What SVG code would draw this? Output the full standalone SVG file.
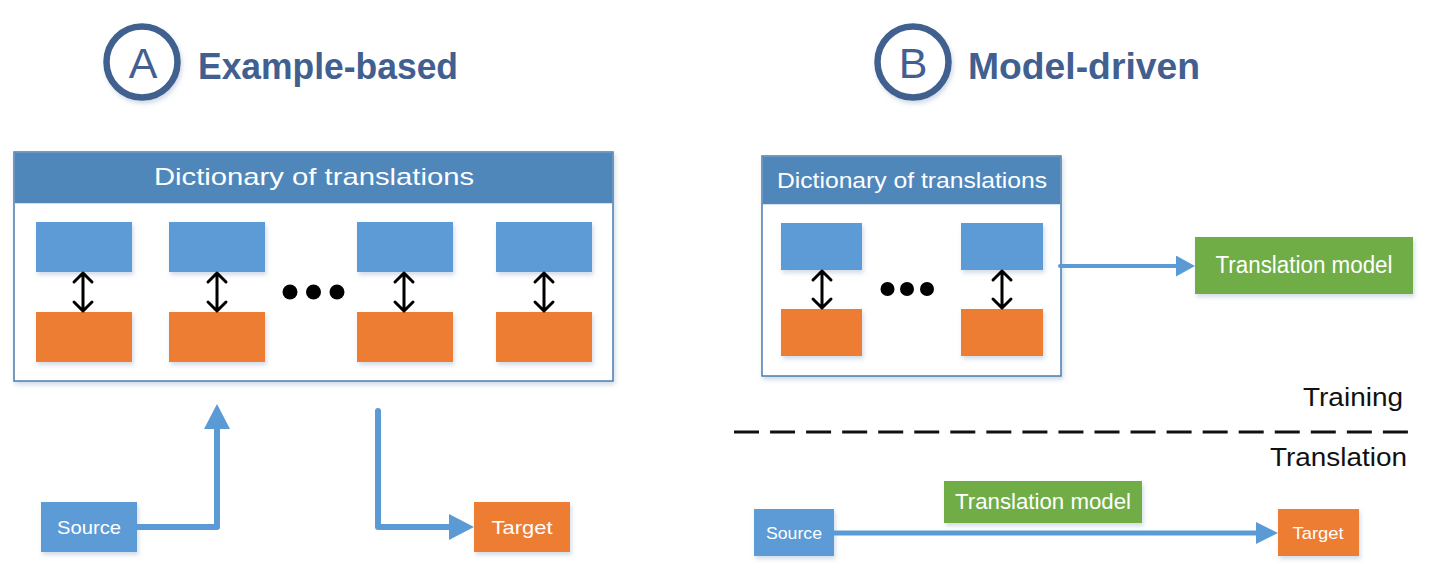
<svg xmlns="http://www.w3.org/2000/svg" width="1440" height="584" viewBox="0 0 1440 584">
<defs>
<filter id="sh" x="-10%" y="-10%" width="130%" height="140%">
<feDropShadow dx="1.5" dy="3" stdDeviation="2" flood-color="#6a88b0" flood-opacity="0.3"/>
</filter>
<marker id="hBig" viewBox="0 0 25 26" markerWidth="25" markerHeight="26" refX="1" refY="13" orient="auto" markerUnits="userSpaceOnUse">
<path d="M0,0 L25,13 L0,26 Z" fill="#5b9bd5"/>
</marker>
<marker id="hMid" viewBox="0 0 22 22" markerWidth="22" markerHeight="22" refX="1" refY="11" orient="auto" markerUnits="userSpaceOnUse">
<path d="M0,0 L22,11 L0,22 Z" fill="#5b9bd5"/>
</marker>
<marker id="hSm" viewBox="0 0 19 21" markerWidth="19" markerHeight="21" refX="1" refY="10.5" orient="auto" markerUnits="userSpaceOnUse">
<path d="M0,0 L19,10.5 L0,21 Z" fill="#5b9bd5"/>
</marker>
</defs>
<style>
.title{font-family:"Liberation Sans",Arial,sans-serif;font-weight:bold;fill:#41608f;font-size:37px}
.letter{font-family:"Liberation Sans",Arial,sans-serif;fill:#41608f;font-size:43px;text-anchor:middle}
.ring{fill:#ffffff;stroke:#41608f;stroke-width:6.5}
.frame{fill:#ffffff;stroke:#4a7cb0;stroke-width:1.5}
.head{fill:#4f87bb}
.blue{fill:#5b9bd5}
.orange{fill:#ed7d31}
.green{fill:#70ad47}
.wt{font-family:"Liberation Sans",Arial,sans-serif;fill:#ffffff;text-anchor:middle}
.dk{font-family:"Liberation Sans",Arial,sans-serif;fill:#111111;font-size:26px;text-anchor:end}
.flow{fill:none;stroke:#5b9bd5;stroke-linejoin:round;stroke-linecap:round}
.dbl{fill:none;stroke:#000000;stroke-width:3;stroke-linecap:round;stroke-linejoin:round}
.dot{fill:#000000}
</style>

<!-- Titles -->
<g id="titleA">
<circle class="ring" cx="142" cy="62" r="35.5" filter="url(#sh)"/>
<text class="letter" x="143" y="78">A</text>
<text class="title" x="198" y="79" textLength="260" lengthAdjust="spacingAndGlyphs">Example-based</text>
</g>
<g id="titleB">
<circle class="ring" cx="913" cy="62" r="35.5" filter="url(#sh)"/>
<text class="letter" x="913" y="78">B</text>
<text class="title" x="968" y="79" textLength="232" lengthAdjust="spacingAndGlyphs">Model-driven</text>
</g>

<!-- Part A dictionary -->
<g id="dictA">
<rect class="frame" x="14" y="152" width="599" height="229" filter="url(#sh)"/>
<rect class="head" x="14.75" y="152.75" width="597.5" height="50.5"/>
<text class="wt" x="314" y="185" font-size="24" textLength="320" lengthAdjust="spacingAndGlyphs">Dictionary of translations</text>
<g filter="url(#sh)">
<rect class="blue" x="36" y="222" width="96" height="50"/>
<rect class="blue" x="169" y="222" width="96" height="50"/>
<rect class="blue" x="357" y="222" width="96" height="50"/>
<rect class="blue" x="496" y="222" width="96" height="50"/>
<rect class="orange" x="36" y="312" width="96" height="50"/>
<rect class="orange" x="169" y="312" width="96" height="50"/>
<rect class="orange" x="357" y="312" width="96" height="50"/>
<rect class="orange" x="496" y="312" width="96" height="50"/>
</g>
<g>
<path class="dbl" d="M83,273 V311 M74,282 L83,273 L92,282 M74,302 L83,311 L92,302"/>
<path class="dbl" d="M217,273 V311 M208,282 L217,273 L226,282 M208,302 L217,311 L226,302"/>
<path class="dbl" d="M404,273 V311 M395,282 L404,273 L413,282 M395,302 L404,311 L413,302"/>
<path class="dbl" d="M544,273 V311 M535,282 L544,273 L553,282 M535,302 L544,311 L553,302"/>
</g>
<circle class="dot" cx="290" cy="292" r="7.5"/>
<circle class="dot" cx="313.5" cy="292" r="7.5"/>
<circle class="dot" cx="337" cy="292" r="7.5"/>
</g>

<g id="sourceA">
<rect class="blue" x="41" y="502" width="96" height="50" filter="url(#sh)"/>
<text class="wt" x="89" y="534" font-size="19" textLength="64" lengthAdjust="spacingAndGlyphs">Source</text>
</g>
<g id="targetA">
<rect class="orange" x="474" y="502" width="96" height="50" filter="url(#sh)"/>
<text class="wt" x="522" y="534" font-size="19" textLength="61" lengthAdjust="spacingAndGlyphs">Target</text>
</g>

<!-- Part B dictionary -->
<g id="dictB">
<rect class="frame" x="762" y="156" width="299" height="220" filter="url(#sh)"/>
<rect class="head" x="762.75" y="156.75" width="297.5" height="47.5"/>
<text class="wt" x="912" y="188" font-size="22" textLength="270" lengthAdjust="spacingAndGlyphs">Dictionary of translations</text>
<g filter="url(#sh)">
<rect class="blue" x="781" y="223" width="81" height="47"/>
<rect class="blue" x="961" y="223" width="82" height="47"/>
<rect class="orange" x="781" y="309" width="81" height="47"/>
<rect class="orange" x="961" y="309" width="82" height="47"/>
</g>
<path class="dbl" d="M822,271 V308 M813,280 L822,271 L831,280 M813,299 L822,308 L831,299"/>
<path class="dbl" d="M1002,271 V308 M993,280 L1002,271 L1011,280 M993,299 L1002,308 L1011,299"/>
<circle class="dot" cx="887.5" cy="289" r="7"/>
<circle class="dot" cx="907" cy="289" r="7"/>
<circle class="dot" cx="927" cy="289" r="7"/>
</g>

<g id="modelTrain">
<rect class="green" x="1195" y="237" width="218" height="57" filter="url(#sh)"/>
<text class="wt" x="1304" y="273" font-size="23" textLength="177" lengthAdjust="spacingAndGlyphs">Translation model</text>
</g>

<g id="phaseLabels">
<text class="dk" x="1403" y="406" textLength="100" lengthAdjust="spacingAndGlyphs">Training</text>
<line x1="734" y1="432" x2="1408" y2="432" stroke="#111111" stroke-width="3" stroke-dasharray="25 11.05"/>
<text class="dk" x="1407" y="466" textLength="137" lengthAdjust="spacingAndGlyphs">Translation</text>
</g>

<g id="modelUse">
<rect class="green" x="944" y="481" width="198" height="42" filter="url(#sh)"/>
<text class="wt" x="1043" y="509" font-size="22" textLength="176" lengthAdjust="spacingAndGlyphs">Translation model</text>
</g>
<g id="sourceB">
<rect class="blue" x="754" y="509" width="80" height="47" filter="url(#sh)"/>
<text class="wt" x="794" y="539" font-size="17" textLength="56" lengthAdjust="spacingAndGlyphs">Source</text>
</g>
<g id="targetB">
<rect class="orange" x="1278" y="509" width="81" height="47" filter="url(#sh)"/>
<text class="wt" x="1318" y="539" font-size="17" textLength="51" lengthAdjust="spacingAndGlyphs">Target</text>
</g>

<!-- Connectors -->
<g id="connectors">
<path class="flow" stroke-width="6" d="M137,527 H217 V428" marker-end="url(#hBig)"/>
<path class="flow" stroke-width="6" d="M378,411 V527 H450" marker-end="url(#hBig)"/>
<path class="flow" stroke-width="4" d="M1060,266 H1177" marker-end="url(#hSm)"/>
<path class="flow" stroke-width="5" d="M834,533 H1257" marker-end="url(#hMid)"/>
</g>
</svg>
